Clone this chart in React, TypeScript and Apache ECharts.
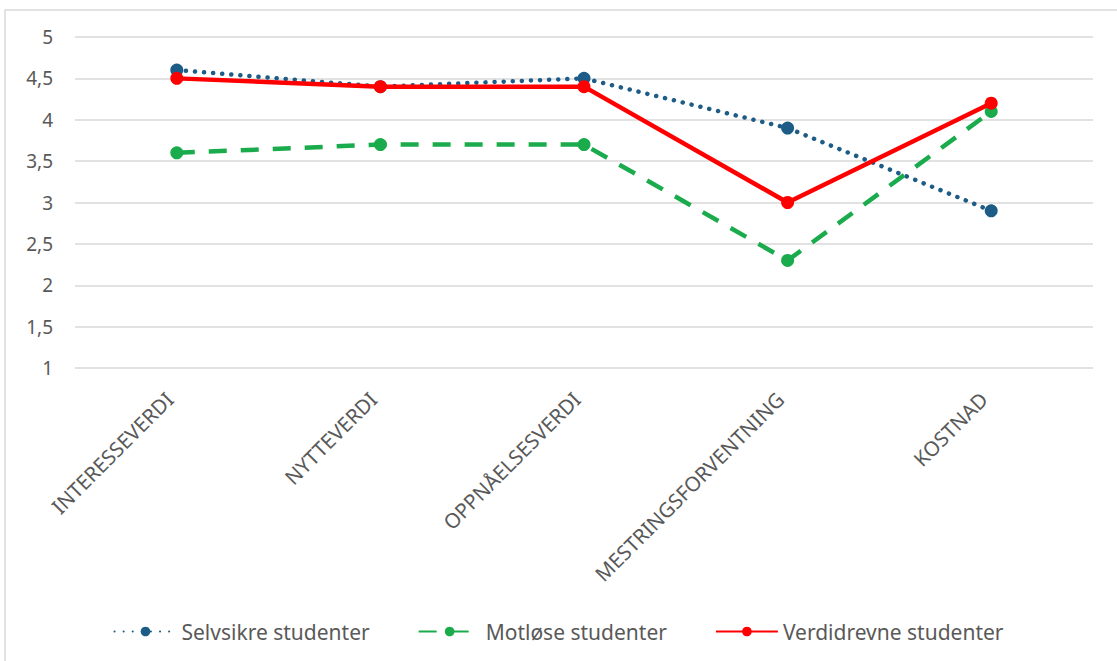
import React, { useEffect, useRef } from "react";
import * as echarts from "echarts";

const categories = ["INTERESSEVERDI", "NYTTEVERDI", "OPPNÅELSESVERDI", "MESTRINGSFORVENTNING", "KOSTNAD"];
const selvsikre = [4.6, 4.4, 4.5, 3.9, 2.9];
const motlose = [3.6, 3.7, 3.7, 2.3, 4.1];
const verdidrevne = [4.5, 4.4, 4.4, 3.0, 4.2];
const seriesNames = ["Selvsikre studenter", "Motløse studenter", "Verdidrevne studenter"];

const FONT = "'Noto Sans', sans-serif";
const TEXT = "#595959";

export default function App() {
  const ref = useRef<HTMLDivElement>(null);
  useEffect(() => {
    document.body.style.margin = "0";
    const chart = echarts.init(ref.current!, null, { renderer: "svg" });
    chart.setOption({
      animation: false,
      backgroundColor: "#ffffff",
      textStyle: { fontFamily: FONT },
      graphic: [
        {
          type: "rect",
          shape: { x: 5, y: 10, width: 1140, height: 680 },
          style: { fill: "none", stroke: "#d9d9d9", lineWidth: 1.5 },
          silent: true,
        },
      ],
      grid: { left: 75, right: 24, top: 37, bottom: 293, containLabel: false },
      xAxis: {
        type: "category",
        data: categories,
        boundaryGap: true,
        axisLine: { show: false },
        axisTick: { show: false },
        axisLabel: {
          rotate: 45,
          interval: 0,
          color: TEXT,
          fontSize: 20.5,
          fontFamily: FONT,
          margin: 35,
          verticalAlign: "bottom",
        },
      },
      yAxis: {
        type: "value",
        min: 1,
        max: 5,
        interval: 0.5,
        axisLine: { show: false },
        axisTick: { show: false },
        splitLine: { lineStyle: { color: "#d9d9d9", width: 1.5 } },
        axisLabel: {
          color: TEXT,
          fontSize: 19,
          fontFamily: FONT,
          margin: 22,
          formatter: (v: number) => String(v).replace(".", ","),
        },
      },
      legend: {
        bottom: 14,
        left: "center",
        itemWidth: 62,
        itemHeight: 12,
        itemGap: 48,
        textStyle: { color: TEXT, fontSize: 21, fontFamily: FONT },
        data: seriesNames,
      },
      series: [
        {
          name: seriesNames[0],
          type: "line",
          data: selvsikre,
          symbol: "circle",
          symbolSize: 13,
          itemStyle: { color: "#1d5c86" },
          lineStyle: { color: "#1d5c86", width: 4.5, type: [0.1, 9], cap: "round" },
          z: 2,
        },
        {
          name: seriesNames[1],
          type: "line",
          data: motlose,
          symbol: "circle",
          symbolSize: 13,
          itemStyle: { color: "#1aab4c" },
          lineStyle: { color: "#1aab4c", width: 4.5, type: [18, 14] },
          z: 3,
        },
        {
          name: seriesNames[2],
          type: "line",
          data: verdidrevne,
          symbol: "circle",
          symbolSize: 13,
          itemStyle: { color: "#ff0000" },
          lineStyle: { color: "#ff0000", width: 4.5 },
          z: 4,
        },
      ],
    });
    return () => chart.dispose();
  }, []);
  return <div ref={ref} style={{ position: "absolute", left: 0, top: 0, width: 1117, height: 661 }} />;
}
